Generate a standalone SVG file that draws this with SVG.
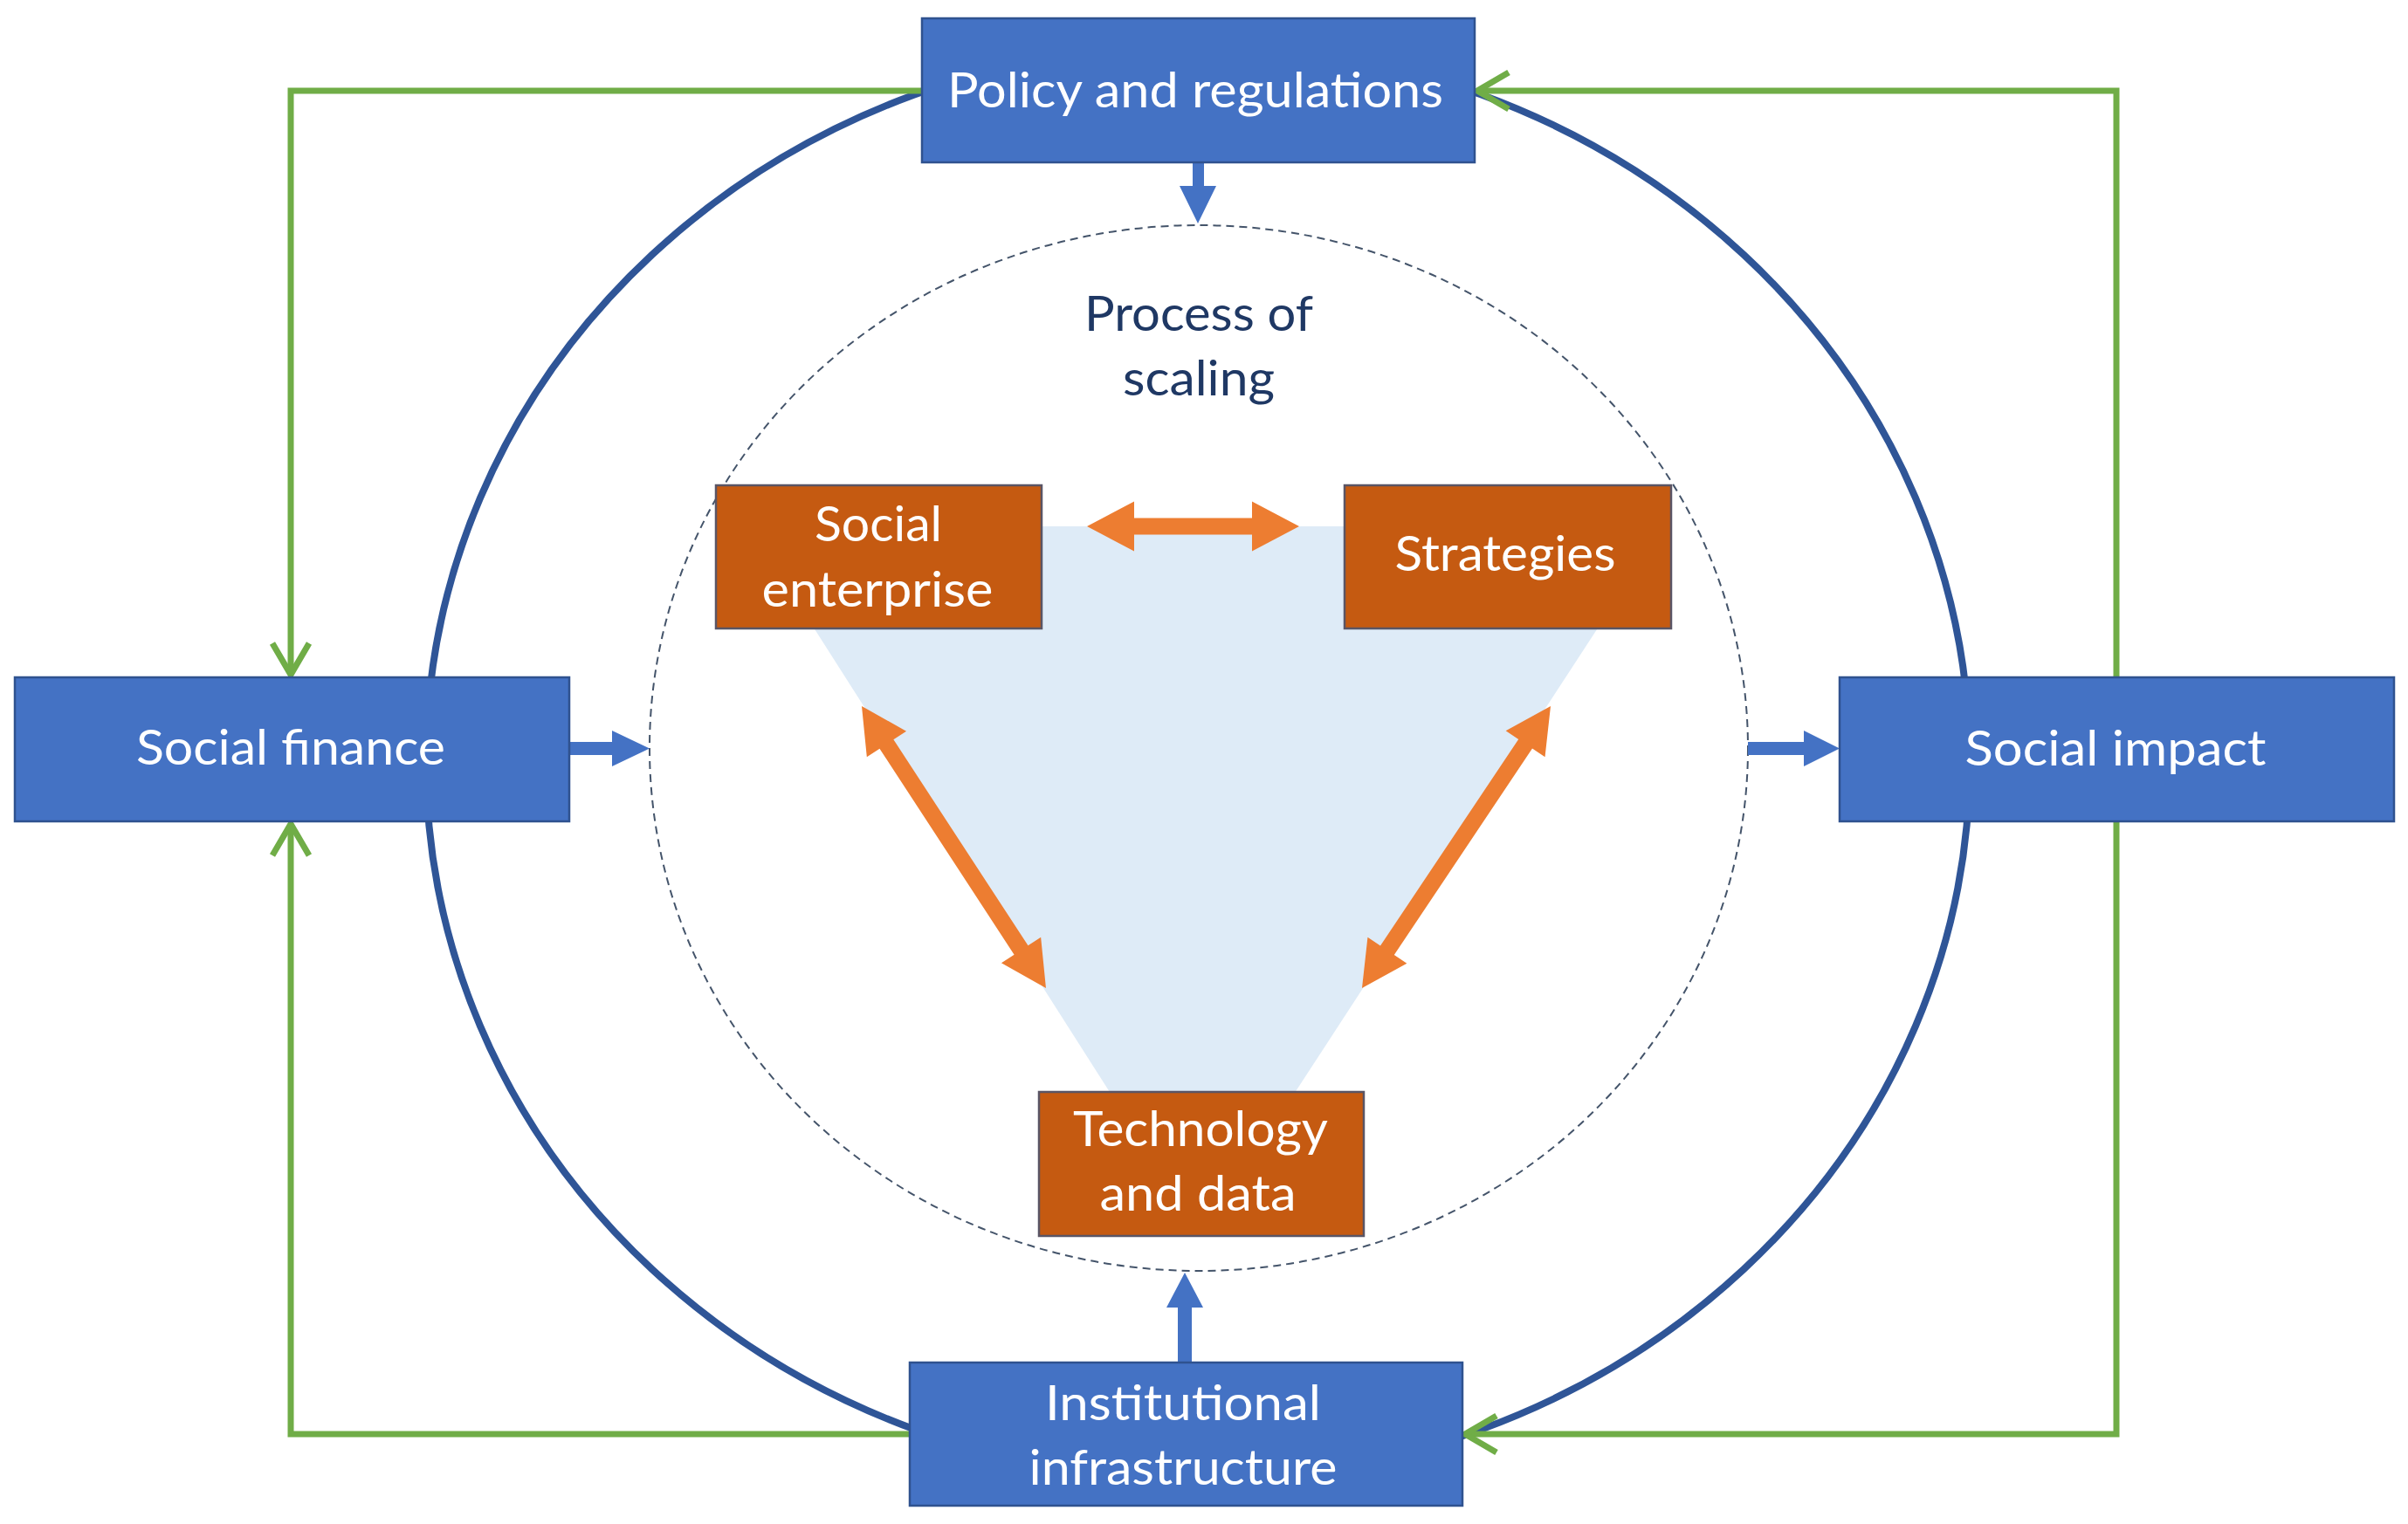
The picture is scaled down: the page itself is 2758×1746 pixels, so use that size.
<svg xmlns="http://www.w3.org/2000/svg" width="2758" height="1746" viewBox="0 0 2758 1746">
<style>
.bluebox{fill:#4472C4;stroke:#2F528F;stroke-width:2.5}
.orbox{fill:#C55A11;stroke:#5A5565;stroke-width:2.5}
.lbl{font-family:Lato,"Liberation Sans",sans-serif;font-size:57px;fill:#FFFFFF;text-anchor:middle}
.proc{font-family:Lato,"Liberation Sans",sans-serif;font-size:57px;fill:#1F3864;text-anchor:middle}
.green{fill:none;stroke:#70AD47;stroke-width:7;marker-end:url(#chev)}
.barrow{fill:#4472C4}
.oarrow{fill:#ED7D31}
</style>
<defs>
<marker id="chev" markerUnits="userSpaceOnUse" markerWidth="60" markerHeight="60" viewBox="-45 -30 60 60" refX="0" refY="0" orient="auto">
<path d="M-36,-21 L0,0 L-36,21" fill="none" stroke="#70AD47" stroke-width="7"/>
</marker>
</defs>
<rect width="2758" height="1746" fill="#FFFFFF"/>
<g id="background">
<polygon points="858,603 1906,603 1376,1416" fill="#DEEBF7"/>
<ellipse cx="1373" cy="857" rx="629" ry="599" fill="none" stroke="#44546A" stroke-width="2" stroke-dasharray="9 6"/>
<ellipse cx="1372" cy="873" rx="884" ry="822" fill="none" stroke="#2F5597" stroke-width="8"/>
</g>
<g id="connectors">
<path class="green" d="M1056,104 H333 V773"/>
<path class="green" d="M1042,1643 H333 V944"/>
<path class="green" d="M2424,776 V104 H1692"/>
<path class="green" d="M2424,941 V1643 H1678"/>
<polygon class="barrow" points="1366,186 1379,186 1379,213 1393,213 1372,256 1351,213 1366,213"/>
<polygon class="barrow" points="1349,1561 1365,1561 1365,1498 1378,1498 1357,1458 1336,1498 1349,1498"/>
<polygon class="barrow" points="652,850 701,850 701,837 744,857.5 701,878 701,865 652,865"/>
<polygon class="barrow" points="2002,850 2066,850 2066,837 2107,857.5 2066,878 2066,865 2002,865"/>
<path class="oarrow" d="M1245,603 L1299,574.5 L1299,593.5 L1434,593.5 L1434,574.5 L1488,603 L1434,631.5 L1434,612.5 L1299,612.5 L1299,631.5 Z"/>
<path class="oarrow" transform="translate(987,809) rotate(56.85)" d="M0,0 L52,-27 L52,-9.5 L333.8,-9.5 L333.8,-27 L385.8,0 L333.8,27 L333.8,9.5 L52,9.5 L52,27 Z"/>
<path class="oarrow" transform="translate(1776,809) rotate(123.77)" d="M0,0 L52,-27 L52,-9.5 L336.6,-9.5 L336.6,-27 L388.6,0 L336.6,27 L336.6,9.5 L52,9.5 L52,27 Z"/>
</g>
<g id="process-label">
<text class="proc" x="1373" y="379" textLength="262" lengthAdjust="spacingAndGlyphs">Process of</text>
<text class="proc" x="1373" y="453" textLength="174" lengthAdjust="spacingAndGlyphs">scaling</text>
</g>
<g id="policy">
<rect class="bluebox" x="1056" y="21" width="633" height="165"/>
<text class="lbl" x="1369" y="123" textLength="568" lengthAdjust="spacingAndGlyphs">Policy and regulations</text>
</g>
<g id="social-finance">
<rect class="bluebox" x="17" y="776" width="635" height="165"/>
<text class="lbl" x="333" y="876" textLength="354" lengthAdjust="spacingAndGlyphs">Social finance</text>
</g>
<g id="social-impact">
<rect class="bluebox" x="2107" y="776" width="635" height="165"/>
<text class="lbl" x="2423" y="877" textLength="345" lengthAdjust="spacingAndGlyphs">Social impact</text>
</g>
<g id="institutional">
<rect class="bluebox" x="1042" y="1561" width="633" height="164"/>
<text class="lbl" x="1355" y="1627" textLength="316" lengthAdjust="spacingAndGlyphs">Institutional</text>
<text class="lbl" x="1355" y="1701" textLength="353" lengthAdjust="spacingAndGlyphs">infrastructure</text>
</g>
<g id="social-enterprise">
<rect class="orbox" x="820" y="556" width="373" height="164"/>
<text class="lbl" x="1006" y="620" textLength="146" lengthAdjust="spacingAndGlyphs">Social</text>
<text class="lbl" x="1005" y="695" textLength="265" lengthAdjust="spacingAndGlyphs">enterprise</text>
</g>
<g id="strategies">
<rect class="orbox" x="1540" y="556" width="374" height="164"/>
<text class="lbl" x="1724" y="654" textLength="253" lengthAdjust="spacingAndGlyphs">Strategies</text>
</g>
<g id="technology">
<rect class="orbox" x="1190" y="1251" width="372" height="165"/>
<text class="lbl" x="1375" y="1313" textLength="292" lengthAdjust="spacingAndGlyphs">Technology</text>
<text class="lbl" x="1372" y="1387" textLength="225" lengthAdjust="spacingAndGlyphs">and data</text>
</g>
</svg>
